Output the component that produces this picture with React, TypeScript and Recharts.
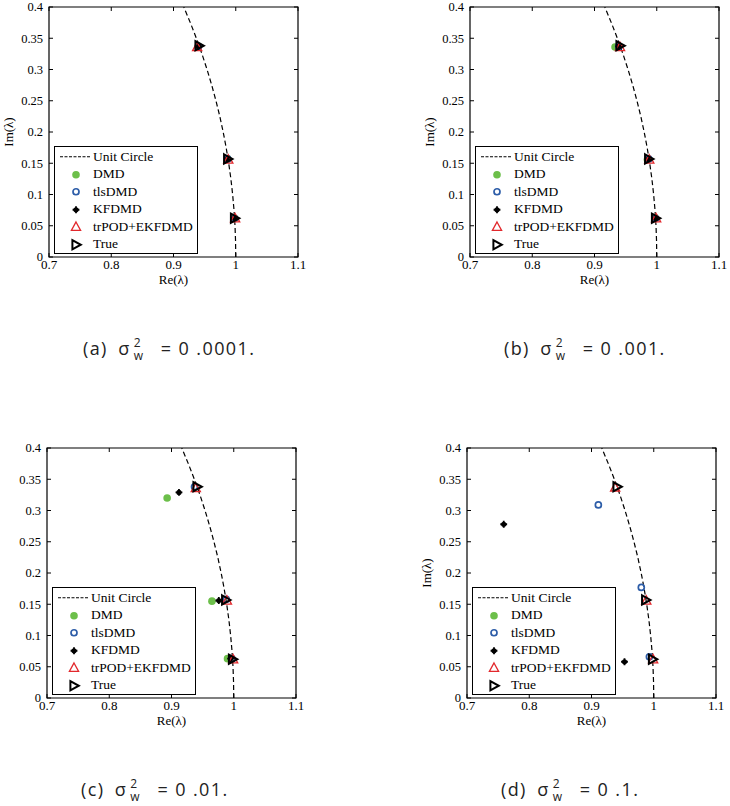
import React from "react";
import { Label, Legend, ReferenceArea, Scatter, ScatterChart, XAxis, YAxis } from "recharts";

type Pt = [number, number];

const reTicks = [0.7, 0.8, 0.9, 1, 1.1];
const imTicks = [0, 0.05, 0.1, 0.15, 0.2, 0.25, 0.3, 0.35, 0.4];

// points of |λ| = 1 inside the visible window
const unitCircle: Pt[] = [
  [1, 0], [0.9997, 0.025], [0.9988, 0.05], [0.9972, 0.075], [0.995, 0.1], [0.9922, 0.125],
  [0.9887, 0.15], [0.9846, 0.175], [0.9798, 0.2], [0.9744, 0.225], [0.9682, 0.25],
  [0.9614, 0.275], [0.9539, 0.3], [0.9457, 0.325], [0.9367, 0.35], [0.927, 0.375], [0.9165, 0.4],
];

const trueEigs: Pt[] = [[0.941, 0.338], [0.987, 0.157], [0.998, 0.062]];

// (a) σ² = 0.0001
const dmdA: Pt[] = [[0.94, 0.337], [0.987, 0.157], [0.998, 0.062]];
const tlsA: Pt[] = [[0.94, 0.337], [0.987, 0.157], [0.998, 0.062]];
const kfA: Pt[] = [[0.94, 0.337], [0.987, 0.157], [0.998, 0.062]];
const trA: Pt[] = [[0.938, 0.336], [0.988, 0.156], [0.999, 0.062]];

// (b) σ² = 0.001
const dmdB: Pt[] = [[0.933, 0.336], [0.985, 0.156], [0.997, 0.063]];
const tlsB: Pt[] = [[0.939, 0.337], [0.987, 0.157], [0.998, 0.062]];
const kfB: Pt[] = [[0.939, 0.337], [0.987, 0.157], [0.998, 0.062]];
const trB: Pt[] = [[0.941, 0.336], [0.988, 0.156], [0.999, 0.062]];

// (c) σ² = 0.01
const dmdC: Pt[] = [[0.893, 0.32], [0.965, 0.155], [0.99, 0.063]];
const tlsC: Pt[] = [[0.937, 0.338], [0.988, 0.158], [0.997, 0.063]];
const kfC: Pt[] = [[0.912, 0.329], [0.976, 0.156], [0.995, 0.063]];
const trC: Pt[] = [[0.939, 0.336], [0.989, 0.156], [0.999, 0.062]];

// (d) σ² = 0.1
const dmdD: Pt[] = [];
const tlsD: Pt[] = [[0.911, 0.309], [0.98, 0.177], [0.993, 0.066]];
const kfD: Pt[] = [[0.759, 0.278], [0.953, 0.058]];
const trD: Pt[] = [[0.938, 0.337], [0.988, 0.156], [0.999, 0.062]];

const legendNames = ["Unit Circle", "DMD", "tlsDMD", "KFDMD", "trPOD+EKFDMD", "True"];
const panelLetters = ["a", "b", "c", "d"];
const noiseLabels = ["0 .0001.", "0 .001.", "0 .01.", "0 .1."];

const panelSeries = [
  { dmd: dmdA, tls: tlsA, kf: kfA, tr: trA },
  { dmd: dmdB, tls: tlsB, kf: kfB, tr: trB },
  { dmd: dmdC, tls: tlsC, kf: kfC, tr: trC },
  { dmd: dmdD, tls: tlsD, kf: kfD, tr: trD },
];

const layout = [
  { left: 49, top: 7, yLabel: true },
  { left: 470, top: 7, yLabel: true },
  { left: 47, top: 448, yLabel: false },
  { left: 467, top: 448, yLabel: true },
];

const PW = 249;
const PH = 250;
const YW = 50;
const MT = 7;
const MR = 12;
const XH = 32;

const GREEN = "#6cbf4a";
const BLUE = "#2d5da8";
const RED = "#e2282c";
const SERIF = '"Liberation Serif", "Times New Roman", serif';

const toXY = (pts: Pt[]) => pts.map(([x, y]) => ({ x, y }));

const dmdMark = (cx: number, cy: number) => <circle cx={cx} cy={cy} r={3.8} fill={GREEN} />;
const tlsMark = (cx: number, cy: number) => <circle cx={cx} cy={cy} r={3} fill="none" stroke={BLUE} strokeWidth={1.7} />;
const kfMark = (cx: number, cy: number) => (
  <g>
    <circle cx={cx} cy={cy} r={2.6} fill="#000" />
    <path d={`M${cx - 3.4},${cy}H${cx + 3.4}M${cx},${cy - 3.4}V${cy + 3.4}`} stroke="#000" strokeWidth={1.8} />
  </g>
);
const trMark = (cx: number, cy: number) => (
  <path d={`M${cx},${cy - 4.8}L${cx + 4.6},${cy + 3.6}L${cx - 4.6},${cy + 3.6}Z`} fill="none" stroke={RED} strokeWidth={1.3} />
);
const trueMark = (cx: number, cy: number) => (
  <path d={`M${cx - 3.6},${cy - 4.6}L${cx + 4.8},${cy}L${cx - 3.6},${cy + 4.6}Z`} fill="none" stroke="#000" strokeWidth={2} strokeLinejoin="miter" />
);

const legendIcons = [
  (cx: number, cy: number) => <line x1={cx - 16} x2={cx + 14} y1={cy} y2={cy} stroke="#000" strokeWidth={1} strokeDasharray="3 1.5" />,
  dmdMark,
  tlsMark,
  kfMark,
  trMark,
  trueMark,
];

function LegendBox() {
  return (
    <div
      style={{
        width: 144,
        height: 108,
        boxSizing: "border-box",
        border: "1.3px solid #000",
        background: "#fff",
        position: "relative",
        fontFamily: SERIF,
        fontSize: 13.5,
        color: "#000",
      }}
    >
      {legendNames.map((name, i) => (
        <div key={name} style={{ position: "absolute", left: 0, top: 1 + i * 17.5, height: 17.5, display: "flex", alignItems: "center", whiteSpace: "nowrap" }}>
          <svg width={38} height={17.5} style={{ display: "block" }}>
            {legendIcons[i](21, 8.75)}
          </svg>
          <span>{name}</span>
        </div>
      ))}
    </div>
  );
}

function XTick(props: any) {
  const { x, y, payload } = props;
  const axisY = y - 3;
  return (
    <g>
      <line x1={x} x2={x} y1={axisY} y2={axisY - 4} stroke="#000" />
      <line x1={x} x2={x} y1={axisY - PH} y2={axisY - PH + 4} stroke="#000" />
      <text x={x} y={y} dy="0.71em" textAnchor="middle" fontFamily={SERIF} fontSize={13} fill="#000">
        {String(payload.value)}
      </text>
    </g>
  );
}

function YTick(props: any) {
  const { x, y, payload } = props;
  const axisX = x + 6;
  return (
    <g>
      <line x1={axisX} x2={axisX + 4} y1={y} y2={y} stroke="#000" />
      <line x1={axisX + PW - 4} x2={axisX + PW} y1={y} y2={y} stroke="#000" />
      <text x={x} y={y} dy="0.355em" textAnchor="end" fontFamily={SERIF} fontSize={12.5} fill="#000">
        {String(payload.value)}
      </text>
    </g>
  );
}

function XLabel(props: any) {
  const vb = props.viewBox;
  return (
    <text x={vb.x + vb.width / 2} y={vb.y + 27} textAnchor="middle" fontFamily={SERIF} fontSize={13} fill="#000">
      Re(λ)
    </text>
  );
}

function YLabel(props: any) {
  const vb = props.viewBox;
  const cx = vb.x + 9;
  const cy = vb.y + vb.height / 2;
  return (
    <text x={cx} y={cy} transform={`rotate(-90 ${cx} ${cy})`} textAnchor="middle" dominantBaseline="central" fontFamily={SERIF} fontSize={13} fill="#000">
      Im(λ)
    </text>
  );
}

function Panel({ index }: { index: number }) {
  const s = panelSeries[index];
  const l = layout[index];
  const shape = (mark: (cx: number, cy: number) => React.ReactElement) => (p: any) => mark(p.cx, p.cy);
  return (
    <div style={{ position: "absolute", left: l.left - YW, top: l.top - MT }}>
      <ScatterChart width={YW + PW + MR} height={MT + PH + XH} margin={{ top: MT, right: MR, bottom: 0, left: 0 }}>
        <XAxis
          type="number"
          dataKey="x"
          domain={[0.7, 1.1]}
          ticks={reTicks}
          interval={0}
          allowDataOverflow
          height={XH}
          axisLine={false}
          tickLine={false}
          tickSize={0}
          tickMargin={3}
          tick={XTick}
        >
          <Label content={XLabel} />
        </XAxis>
        <YAxis
          type="number"
          dataKey="y"
          domain={[0, 0.4]}
          ticks={imTicks}
          interval={0}
          allowDataOverflow
          width={YW}
          axisLine={false}
          tickLine={false}
          tickSize={0}
          tickMargin={6}
          tick={YTick}
        >
          {l.yLabel ? <Label content={YLabel} /> : null}
        </YAxis>
        <ReferenceArea x1={0.7} x2={1.1} y1={0} y2={0.4} fill="none" fillOpacity={0} stroke="#000" strokeWidth={1.2} />
        <Scatter
          data={toXY(unitCircle)}
          fill="none"
          line={{ stroke: "#000", strokeWidth: 1.2, strokeDasharray: "5 3" }}
          lineType="joint"
          shape={() => <g />}
          isAnimationActive={false}
        />
        <Scatter data={toXY(s.dmd)} shape={shape(dmdMark)} isAnimationActive={false} />
        <Scatter data={toXY(s.tls)} shape={shape(tlsMark)} isAnimationActive={false} />
        <Scatter data={toXY(s.kf)} shape={shape(kfMark)} isAnimationActive={false} />
        <Scatter data={toXY(s.tr)} shape={shape(trMark)} isAnimationActive={false} />
        <Scatter data={toXY(trueEigs)} shape={shape(trueMark)} isAnimationActive={false} />
        <Legend
          layout="vertical"
          align="center"
          verticalAlign="middle"
          content={() => <LegendBox />}
          wrapperStyle={{ left: YW + 5, top: MT + 139, width: 144, height: 108 }}
        />
      </ScatterChart>
    </div>
  );
}

function Caption({ index }: { index: number }) {
  const l = layout[index];
  return (
    <div
      style={{
        position: "absolute",
        left: l.left + 34,
        top: l.top + 330,
        fontFamily: '"Open Sans", sans-serif',
        fontSize: 18,
        letterSpacing: 1.4,
        lineHeight: "22px",
        whiteSpace: "nowrap",
        color: "#222",
      }}
    >
      {`(${panelLetters[index]})\u2002σ`}
      <span style={{ display: "inline-block", width: 0, fontSize: 12, lineHeight: 1, position: "relative", top: -8, marginLeft: 3 }}>2</span>
      <span style={{ fontSize: 12, lineHeight: 1, position: "relative", top: 5 }}>w</span>
      {` \u2002= ${noiseLabels[index]}`}
    </div>
  );
}

export default function App() {
  return (
    <div style={{ position: "absolute", left: 0, top: 0, width: 730, height: 806, background: "#fff" }}>
      {layout.map((_, i) => (
        <Panel key={`p${i}`} index={i} />
      ))}
      {layout.map((_, i) => (
        <Caption key={`c${i}`} index={i} />
      ))}
    </div>
  );
}
